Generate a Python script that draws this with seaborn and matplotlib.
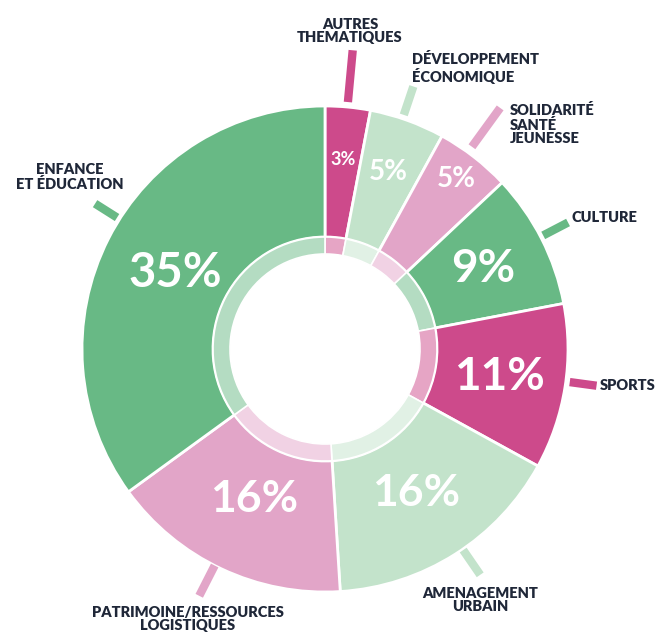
import numpy as np
import matplotlib
matplotlib.use("Agg")
from matplotlib import pyplot as plt
import seaborn as sns

# slices, clockwise from 12 o'clock
labels = ['AUTRES\nTHEMATIQUES', 'DÉVELOPPEMENT\nÉCONOMIQUE', 'SOLIDARITÉ\nSANTÉ\nJEUNESSE',
          'CULTURE', 'SPORTS', 'AMENAGEMENT\nURBAIN', 'PATRIMOINE/RESSOURCES\nLOGISTIQUES',
          'ENFANCE\nET ÉDUCATION']
values = [3, 5, 5, 9, 11, 16, 16, 35]

dark_green = '#68b985'
light_green = '#c3e3cb'
dark_pink = '#cd4a8b'
light_pink = '#e2a5c8'
colors = sns.color_palette([dark_pink, light_green, light_pink, dark_green,
                            dark_pink, light_green, light_pink, dark_green])
inner_colors = [sns.blend_palette([c, 'white'], 5)[2] for c in colors]

# layout (pixels, y from top)
W, H = 662, 637
cx, cy = 325, 349
R, R_ring, R_hole = 243, 112, 95
pct_r = [190, 188, 215, 177, 177, 170, 166, 168]
pct_size = [13, 20, 20, 33, 33, 32, 32, 34]
# label text: x, y, ha
lab_pos = [(350, 31, 'center'), (412, 68, 'left'), (510, 124, 'left'),
           (572, 218, 'left'), (600, 385, 'left'), (480, 600, 'center'),
           (188, 619, 'center'), (70, 177, 'center')]
# tick: angle from top (deg), inner r, outer r
ticks = [(5.3, 248, 300), (18.6, 247, 277), (36, 250, 298), (62.5, 246, 274),
         (97.7, 247, 274), (145.5, 244, 274), (207, 243, 277), (302.3, 246, 272)]

sns.set_theme(style='white')
plt.rcParams['font.family'] = ['Lato', 'DejaVu Sans']

fig = plt.figure(figsize=(W / 100, H / 100), dpi=100)
ax = fig.add_axes([0, 0, 1, 1])

center = (cx, H - cy)
ax.pie(values, colors=colors, startangle=90, counterclock=False, radius=R, center=center,
       wedgeprops=dict(width=R - R_ring, edgecolor='white', linewidth=2), frame=True)
ax.pie(values, colors=inner_colors, startangle=90, counterclock=False, radius=R_ring, center=center,
       wedgeprops=dict(width=R_ring - R_hole, edgecolor='white', linewidth=1.2), frame=True)
ax.set_xlim(0, W)
ax.set_ylim(0, H)
ax.set_aspect('equal')
ax.axis('off')

cum = np.cumsum([0] + values[:-1])
for i, v in enumerate(values):
    mid = np.radians((cum[i] + v / 2) / sum(values) * 360)
    x = cx + pct_r[i] * np.sin(mid)
    y = cy - pct_r[i] * np.cos(mid)
    ax.text(x, H - y, f'{v}%', color='white', fontsize=pct_size[i], fontweight='bold',
            ha='center', va='center')

    lx, ly, ha = lab_pos[i]
    ax.text(lx, H - ly, labels[i], color='#1f2738', fontsize=10.5, fontweight='heavy',
            ha=ha, va='center', multialignment=ha, linespacing=1.08)

    a, r0, r1 = ticks[i]
    a = np.radians(a)
    ax.plot([cx + r0 * np.sin(a), cx + r1 * np.sin(a)],
            [H - (cy - r0 * np.cos(a)), H - (cy - r1 * np.cos(a))],
            color=colors[i], lw=6, solid_capstyle='butt')

fig.savefig('out.png', dpi=100, facecolor='white')
